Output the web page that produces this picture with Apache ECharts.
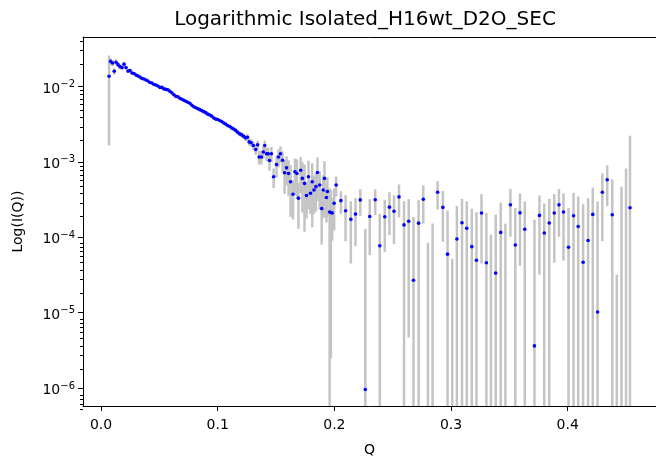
<!DOCTYPE html>
<html><head><meta charset="utf-8">
<script src="https://cdn.jsdelivr.net/npm/echarts@6/dist/echarts.min.js"></script>
<style>html,body{margin:0;padding:0;background:#fff}#c{width:656px;height:462px}</style>
</head><body><div id="c"></div>
<script>
const chartTitle = 'Logarithmic Isolated_H16wt_D2O_SEC';
const xName = 'Q';
const yName = 'Log(I(Q))';
const xTicks = [0, 0.1, 0.2, 0.3, 0.4];
const yDecades = [-6, -5, -4, -3, -2];
const xRange = [-0.0155, 0.4757];
const yRange = [5.8e-7, 4.52e-2];

const qValues = [
0.00684,0.00812,0.00983,0.01128,0.01282,0.01453,0.01624,0.01795,0.01966,0.02137,
0.02308,0.02479,0.02650,0.02821,0.02991,0.03162,0.03333,0.03504,0.03675,0.03846,
0.04017,0.04188,0.04359,0.04530,0.04701,0.04872,0.05043,0.05214,0.05385,0.05556,
0.05726,0.05897,0.06068,0.06239,0.06410,0.06581,0.06752,0.06923,0.07094,0.07265,
0.07436,0.07607,0.07778,0.07949,0.08120,0.08291,0.08462,0.08632,0.08803,0.08974,
0.09145,0.09316,0.09487,0.09658,0.09829,0.1000,0.1017,0.1034,0.1051,0.1068,
0.1085,0.1103,0.1120,0.1137,0.1154,0.1171,0.1188,0.1205,0.1222,0.1239,
0.1255,0.1269,0.1286,0.1306,0.1326,0.1342,0.1355,0.1374,0.1391,0.1403,
0.1419,0.1432,0.1444,0.1460,0.1479,0.1504,0.1521,0.1538,0.1556,0.1573,
0.1590,0.1607,0.1624,0.1645,0.1662,0.1679,0.1692,0.1711,0.1726,0.1744,
0.1761,0.1778,0.1795,0.1810,0.1825,0.1842,0.1855,0.1874,0.1891,0.1904,
0.1915,0.1932,0.1940,0.1959,0.1970,0.1981,0.1998,0.2015,
0.2056,0.2096,0.2141,0.2181,0.2222,0.2265,0.2303,0.2350,0.2389,0.2432,
0.2472,0.2511,0.2554,0.2597,0.2637,0.2678,0.2722,0.2762,0.2802,0.2842,
0.2885,0.2930,0.2970,0.3010,0.3050,0.3094,0.3135,0.3178,0.3218,0.3261,
0.3303,0.3342,0.3383,0.3426,0.3466,0.3509,0.3551,0.3591,0.3632,0.3715,
0.3758,0.3799,0.3842,0.3885,0.3925,0.3964,0.4007,0.4050,0.4090,0.4132,
0.4175,0.4215,0.4256,0.4297,0.4339,0.4382,0.4421,0.4461,0.4500,0.4534
];

const intensity = [
1.365e-2,2.147e-2,2.046e-2,1.587e-2,2.096e-2,1.943e-2,1.829e-2,1.775e-2,1.973e-2,1.775e-2,
1.597e-2,1.621e-2,1.503e-2,1.481e-2,1.415e-2,1.373e-2,1.332e-2,1.273e-2,1.254e-2,1.217e-2,
1.181e-2,1.128e-2,1.111e-2,1.062e-2,1.046e-2,1.015e-2,9.70e-3,9.70e-3,9.27e-3,9.13e-3,
9.00e-3,8.60e-3,8.22e-3,7.74e-3,7.39e-3,7.28e-3,6.96e-3,6.75e-3,6.55e-3,6.36e-3,
6.17e-3,5.98e-3,5.63e-3,5.38e-3,5.22e-3,5.07e-3,4.92e-3,4.77e-3,4.63e-3,4.49e-3,
4.29e-3,4.17e-3,4.04e-3,3.81e-3,3.69e-3,3.64e-3,3.53e-3,3.42e-3,3.27e-3,3.17e-3,
3.03e-3,2.94e-3,2.81e-3,2.73e-3,2.61e-3,2.46e-3,2.35e-3,2.28e-3,2.18e-3,2.08e-3,
2.12e-3,1.84e-3,1.79e-3,1.65e-3,1.46e-3,1.68e-3,1.16e-3,1.16e-3,1.35e-3,1.65e-3,
1.28e-3,1.28e-3,1.04e-3,1.28e-3,6.35e-4,9.20e-4,1.16e-3,1.28e-3,1.05e-3,7.16e-4,
8.33e-4,7.01e-4,5.46e-4,3.72e-4,7.38e-4,7.01e-4,3.30e-4,7.75e-4,6.03e-4,5.18e-4,
3.58e-4,6.35e-4,3.84e-4,5.46e-4,4.23e-4,4.69e-4,7.23e-4,4.93e-4,2.40e-4,4.23e-4,
6.03e-4,3.37e-4,4.04e-4,2.16e-4,2.13e-4,2.10e-4,2.83e-4,4.93e-4,
3.06e-4,2.25e-4,1.73e-4,2.03e-4,3.13e-4,9.61e-7,1.89e-4,3.15e-4,7.74e-5,1.87e-4,
2.51e-4,2.21e-4,3.43e-4,1.46e-4,1.63e-4,2.69e-5,1.54e-4,3.20e-4,-1.0e-4,-5.0e-5,
3.95e-4,2.49e-4,5.98e-5,-1.2e-4,9.47e-5,1.56e-4,1.32e-4,7.51e-5,4.96e-5,2.10e-4,
4.59e-5,-6.0e-5,3.35e-5,1.16e-4,-2.0e-5,2.69e-4,7.90e-5,2.11e-4,1.28e-4,3.63e-6,
1.95e-4,1.14e-4,1.55e-4,2.10e-4,2.69e-4,2.16e-4,7.39e-5,1.93e-4,1.39e-4,4.67e-5,
9.08e-5,2.01e-4,1.02e-5,3.95e-4,5.80e-4,1.99e-4,-3.5e-4,-3.0e-5,-5.0e-5,2.46e-4
];

const errors = [
1.2e-2,2.2e-3,2.0e-3,1.6e-3,1.9e-3,1.4e-3,1.2e-3,1.1e-3,1.1e-3,9e-4,
8e-4,8e-4,7e-4,6e-4,6e-4,5e-4,5e-4,4e-4,4e-4,4e-4,
3.5e-4,3.3e-4,3.2e-4,3.0e-4,3.0e-4,2.9e-4,2.8e-4,2.8e-4,2.7e-4,2.6e-4,
2.6e-4,2.5e-4,2.4e-4,2.3e-4,2.2e-4,2.2e-4,2.1e-4,2.0e-4,2.0e-4,1.9e-4,
1.9e-4,1.8e-4,1.8e-4,1.7e-4,1.7e-4,1.6e-4,1.6e-4,1.6e-4,1.5e-4,1.5e-4,
1.5e-4,1.5e-4,1.4e-4,1.4e-4,1.4e-4,1.4e-4,1.4e-4,1.4e-4,1.4e-4,1.4e-4,
1.5e-4,1.5e-4,1.5e-4,1.5e-4,1.6e-4,1.6e-4,1.7e-4,1.7e-4,1.8e-4,1.9e-4,
2.0e-4,2.0e-4,2.1e-4,2.2e-4,2.2e-4,2.3e-4,2.4e-4,2.4e-4,2.5e-4,2.6e-4,
2.6e-4,2.7e-4,2.8e-4,2.9e-4,1.85e-4,3.0e-4,3.1e-4,3.2e-4,3.3e-4,3.4e-4,
3.5e-4,3.5e-4,3.6e-4,2.0e-4,3.7e-4,3.8e-4,2.0e-4,3.9e-4,3.9e-4,4.0e-4,
1.8e-4,4.0e-4,1.8e-4,4.1e-4,2.2e-4,2.5e-4,4.2e-4,2.6e-4,1.6e-4,2.4e-4,
4.2e-4,1.8e-4,2.2e-4,2.3e-4,2.105e-4,1.2e-4,1.6e-4,1.47e-4,
1.01e-4,1.36e-4,1.28e-4,1.27e-4,1.20e-4,1.28e-4,1.31e-4,1.18e-4,1.26e-4,1.23e-4,
1.44e-4,1.40e-4,1.60e-4,1.55e-4,1.583e-4,1.59e-4,1.56e-4,1.68e-4,1.847e-4,2.02e-4,
1.61e-4,1.62e-4,1.65e-4,1.72e-4,1.66e-4,1.67e-4,1.69e-4,1.64e-4,1.66e-4,1.65e-4,
1.64e-4,1.69e-4,1.655e-4,1.73e-4,1.72e-4,1.67e-4,1.65e-4,1.69e-4,1.70e-4,1.67e-4,
1.63e-4,1.67e-4,1.68e-4,1.64e-4,1.67e-4,1.67e-4,1.70e-4,1.95e-4,2.08e-4,2.28e-4,
2.39e-4,2.54e-4,2.88e-4,3.06e-4,3.21e-4,3.86e-4,3.82e-4,4.99e-4,8.66e-4,1.98e-3
];

const FONT = 'DejaVu Sans';
const yMajor = yDecades.map(d => Math.pow(10, d));
const yMinor = [];
for (let d = -7; d <= -2; d++) {
  for (let k = 2; k <= 9; k++) {
    const v = k * Math.pow(10, d);
    if (v >= yRange[0] && v <= yRange[1]) yMinor.push(v);
  }
}

const pointData = [];
const barData = [];
qValues.forEach((q, i) => {
  const I = intensity[i], e = errors[i];
  if (I > 0) pointData.push([q, I]);
  const hi = I + e;
  if (hi > yRange[0]) barData.push([q, Math.max(I - e, yRange[0]), hi]);
});

const gridBox = {left: 83, top: 37, width: 575, height: 373};
const chart = echarts.init(document.getElementById('c'), null, {renderer: 'canvas'});
chart.setOption({
  animation: false,
  backgroundColor: '#fff',
  graphic: [{
    type: 'text', x: 365, y: 20, z: 10,
    style: {text: chartTitle, fontSize: 20, fontFamily: FONT, fill: '#000',
            align: 'center', verticalAlign: 'middle', textAlign: 'center', textVerticalAlign: 'middle'}
  }],
  grid: [Object.assign({}, gridBox), Object.assign({}, gridBox)],
  xAxis: [{
    gridIndex: 0, type: 'value', min: xRange[0], max: xRange[1], position: 'bottom',
    name: xName, nameLocation: 'middle', nameGap: 37,
    nameTextStyle: {fontSize: 14, fontFamily: FONT, color: '#000'},
    axisLine: {show: true, onZero: false, lineStyle: {color: '#000', width: 1}},
    axisTick: {show: true, length: 5, lineStyle: {color: '#000'}, customValues: xTicks},
    axisLabel: {customValues: xTicks, formatter: v => v.toFixed(1), fontSize: 14, fontFamily: FONT, color: '#000', margin: 12},
    splitLine: {show: false}
  }, {
    gridIndex: 0, type: 'value', min: xRange[0], max: xRange[1], position: 'top',
    axisLine: {show: true, onZero: false, lineStyle: {color: '#000', width: 1}},
    axisTick: {show: false}, axisLabel: {show: false}, splitLine: {show: false}
  }, {
    gridIndex: 1, type: 'value', min: xRange[0], max: xRange[1], show: false
  }],
  yAxis: [{
    gridIndex: 0, type: 'log', logBase: 10, min: yRange[0], max: yRange[1], position: 'left',
    name: yName, nameLocation: 'middle', nameGap: 58, nameRotate: 90,
    nameTextStyle: {fontSize: 14, fontFamily: FONT, color: '#000'},
    axisLine: {show: true, onZero: false, lineStyle: {color: '#000', width: 1}},
    axisTick: {show: true, length: 5, lineStyle: {color: '#000'}, customValues: yMajor},
    axisLabel: {
      customValues: yMajor, margin: 8,
      formatter: v => '{b|10}{e|\u2212' + Math.abs(Math.round(Math.log10(v))) + '}',
      rich: {
        b: {fontSize: 14, fontFamily: FONT, color: '#000', lineHeight: 14, padding: [5, 0, 0, 0]},
        e: {fontSize: 10, fontFamily: FONT, color: '#000', lineHeight: 10, verticalAlign: 'top'}
      }
    },
    splitLine: {show: false}
  }, {
    gridIndex: 1, type: 'log', logBase: 10, min: yRange[0], max: yRange[1], position: 'left',
    axisLine: {show: false, onZero: false},
    axisTick: {show: true, length: 3, lineStyle: {color: '#000'}, customValues: yMinor},
    axisLabel: {show: false},
    splitLine: {show: false}
  }],
  series: [{
    type: 'custom', z: 2, xAxisIndex: 0, yAxisIndex: 0,
    encode: {x: 0, y: [1, 2]},
    data: barData,
    renderItem: (params, api) => {
      const q = api.value(0);
      const p1 = api.coord([q, api.value(2)]);
      const p2 = api.coord([q, api.value(1)]);
      return {type: 'line', shape: {x1: p1[0], y1: p1[1], x2: p2[0], y2: p2[1]},
              style: {stroke: '#c4c4c4', lineWidth: 2.5}};
    }
  }, {
    type: 'scatter', z: 3, xAxisIndex: 0, yAxisIndex: 0,
    symbol: 'circle', symbolSize: 3.6,
    itemStyle: {color: '#0000ff', borderWidth: 0, opacity: 1},
    data: pointData
  }]
});
</script></body></html>
